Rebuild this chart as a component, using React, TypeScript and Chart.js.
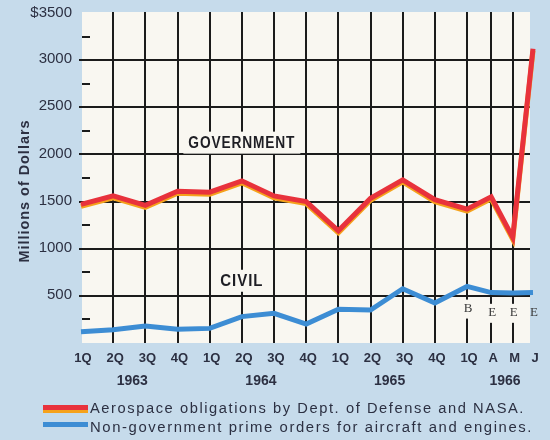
import React, { useEffect, useRef } from 'react';
import { Chart, registerables } from 'chart.js';

Chart.register(...registerables);

// ---------- data ----------
const periodLabels = ['1Q', '2Q', '3Q', '4Q', '1Q', '2Q', '3Q', '4Q', '1Q', '2Q', '3Q', '4Q', '1Q', 'A', 'M', 'J'];
// position of each period on the (non-uniform) time axis, in quarter units
const periodPos = [0, 1, 2, 3, 4, 5, 6, 7, 8, 9, 10, 11, 12, 12.75, 13.42, 14.05];
const yearLabels = ['1963', '1964', '1965', '1966'];
// each year label sits between these two period indices
const yearBetween = [[1, 2], [5, 6], [9, 10], [13, 14]];
const estimateFlags = ['', '', '', '', '', '', '', '', '', '', '', '', 'B', 'E', 'E', 'E'];

const government = [1470, 1560, 1460, 1610, 1600, 1720, 1560, 1500, 1190, 1535, 1730, 1520, 1420, 1550, 1120, 3120];
const civil = [120, 140, 180, 145, 155, 280, 315, 200, 358, 350, 575, 425, 600, 535, 530, 535];

const yTickValues = [500, 1000, 1500, 2000, 2500, 3000, 3500];
const yTickLabels = ['500', '1000', '1500', '2000', '2500', '3000', '$3500'];
const yGridValues = [500, 1000, 1500, 2000, 2500, 3000];
const yMinorValues = [250, 750, 1250, 1750, 2250, 2750, 3250];

const govLabel = 'Aerospace obligations by Dept. of Defense and NASA.';
const civLabel = 'Non-government prime orders for aircraft and engines.';

// ---------- styles ----------
const PAGE_BG = '#c6dbeb';
const PLOT_BG = '#f9f7f1';
const GRID = '#1b1b1b';
const RED = '#e8323c';
const ORANGE = '#f5a21c';
const BLUE = '#3d8dd4';
const TEXT = '#2c3042';

function fitText(ctx: CanvasRenderingContext2D, text: string, x: number, y: number, width: number, align: CanvasTextAlign) {
  const w = ctx.measureText(text).width;
  const sx = width / w;
  ctx.save();
  ctx.translate(x, y);
  ctx.scale(sx, 1);
  ctx.textAlign = align;
  ctx.fillText(text, 0, 0);
  ctx.restore();
}

const decor = {
  id: 'decor',
  beforeDraw(chart: any) {
    const { ctx, chartArea: a } = chart;
    ctx.save();
    ctx.fillStyle = PAGE_BG;
    ctx.fillRect(0, 0, chart.width, chart.height);
    ctx.fillStyle = PLOT_BG;
    ctx.fillRect(a.left + 1, a.top - 1, a.right - a.left - 4, a.bottom - a.top + 1);
    ctx.restore();
  },
  beforeDatasetsDraw(chart: any) {
    const { ctx, chartArea: a, scales } = chart;
    const x = scales.x, y = scales.y;
    ctx.save();
    ctx.strokeStyle = GRID;
    ctx.lineWidth = 2;
    // horizontal grid
    yGridValues.forEach((v) => {
      const py = Math.round(y.getPixelForValue(v));
      ctx.beginPath();
      ctx.moveTo(a.left - 2, py);
      ctx.lineTo(a.right - 3, py);
      ctx.stroke();
    });
    // minor ticks
    yMinorValues.forEach((v) => {
      const py = Math.round(y.getPixelForValue(v));
      ctx.beginPath();
      ctx.moveTo(a.left + 1, py);
      ctx.lineTo(a.left + 9, py);
      ctx.stroke();
    });
    // vertical grid (skip first and last period)
    periodPos.forEach((p, i) => {
      if (i === 0 || i === periodPos.length - 1) return;
      const px = Math.round(x.getPixelForValue(p));
      ctx.beginPath();
      ctx.moveTo(px, a.top - 1);
      ctx.lineTo(px, a.bottom);
      ctx.stroke();
    });

    // estimate letters with gaps in the grid lines
    periodPos.forEach((p, i) => {
      const f = estimateFlags[i];
      if (!f) return;
      const px = x.getPixelForValue(p);
      const py = y.getPixelForValue(f === 'B' ? 365 : 320);
      if (i !== periodPos.length - 1) {
        ctx.fillStyle = PLOT_BG;
        ctx.fillRect(px - 6, py - 9, 12, 19);
      }
      ctx.fillStyle = '#3a3a3a';
      ctx.font = '13px "Liberation Serif", serif';
      ctx.textAlign = 'center';
      ctx.textBaseline = 'middle';
      ctx.fillText(f, px + 1, py);
    });

    // series annotations
    const notes: [string, number, number, number][] = [
      ['GOVERNMENT', 5, 2125, 107],
      ['CIVIL', 5, 660, 43],
    ];
    notes.forEach(([t, xp, yv, w]) => {
      const px = x.getPixelForValue(xp);
      const py = y.getPixelForValue(yv);
      ctx.fillStyle = PLOT_BG;
      ctx.fillRect(px - w / 2 - 5, py - 11, w + 10, 22);
      ctx.fillStyle = '#1e1e24';
      ctx.font = 'bold 16px "Liberation Sans", Arial, sans-serif';
      (ctx as any).letterSpacing = '1px';
      ctx.textBaseline = 'middle';
      fitText(ctx, t, px, py + 1, w, 'center');
      (ctx as any).letterSpacing = '0px';
    });
    ctx.restore();
  },
  beforeDatasetDraw(chart: any, args: any) {
    if (args.index === 1) {
      const ctx = chart.ctx;
      ctx.save();
      ctx.shadowColor = ORANGE;
      ctx.shadowOffsetY = 2;
      ctx.shadowOffsetX = 0;
      ctx.shadowBlur = 0;
    }
  },
  afterDatasetDraw(chart: any, args: any) {
    if (args.index === 1) chart.ctx.restore();
  },
  afterDraw(chart: any) {
    const { ctx, chartArea: a, scales } = chart;
    const x = scales.x, y = scales.y;
    ctx.save();
    ctx.fillStyle = TEXT;
    // y tick labels
    ctx.font = '15px "Liberation Sans", Arial, sans-serif';
    ctx.textBaseline = 'middle';
    ctx.textAlign = 'right';
    yTickValues.forEach((v, i) => {
      ctx.fillText(yTickLabels[i], a.left - 9, y.getPixelForValue(v) - (i === yTickValues.length - 1 ? 0 : 1));
    });
    // y title
    ctx.save();
    ctx.translate(25, (a.top + a.bottom) / 2 + 13);
    ctx.rotate(-Math.PI / 2);
    ctx.font = 'bold 14px "Liberation Sans", Arial, sans-serif';
    (ctx as any).letterSpacing = '1px';
    ctx.textBaseline = 'middle';
    fitText(ctx, 'Millions of Dollars', 0, 0, 143, 'center');
    (ctx as any).letterSpacing = '0px';
    ctx.restore();

    // x labels
    ctx.font = 'bold 13px "Liberation Sans", Arial, sans-serif';
    ctx.textAlign = 'center';
    ctx.textBaseline = 'alphabetic';
    periodLabels.forEach((l, i) => {
      ctx.fillText(l, x.getPixelForValue(periodPos[i]) + 2, a.bottom + 19);
    });
    ctx.font = 'bold 14px "Liberation Sans", Arial, sans-serif';
    yearLabels.forEach((l, i) => {
      const [p0, p1] = yearBetween[i];
      const px = (x.getPixelForValue(periodPos[p0]) + x.getPixelForValue(periodPos[p1])) / 2;
      ctx.fillText(l, px + 3, a.bottom + 42);
    });

    // legend
    const ds = chart.data.datasets;
    const sx = 43, sw = 45;
    // government swatch (red with orange underside)
    ctx.fillStyle = ORANGE;
    ctx.fillRect(sx, 408, sw, 5);
    ctx.fillStyle = ds[1].borderColor;
    ctx.fillRect(sx, 405, sw, 5);
    ctx.fillStyle = ds[0].borderColor;
    ctx.fillRect(sx, 422, sw, 5);
    ctx.fillStyle = TEXT;
    ctx.font = '14px "Liberation Sans", Arial, sans-serif';
    (ctx as any).letterSpacing = '1.5px';
    ctx.textBaseline = 'alphabetic';
    fitText(ctx, ds[1].label, 90, 413, 435, 'left');
    fitText(ctx, ds[0].label, 90, 432, 443, 'left');
    (ctx as any).letterSpacing = '0px';
    ctx.restore();
  },
};

export default function App() {
  const ref = useRef<HTMLCanvasElement>(null);
  useEffect(() => {
    const canvas = ref.current!;
    const chart = new Chart(canvas, {
      type: 'line',
      data: {
        datasets: [
          {
            label: civLabel,
            data: civil.map((v, i) => ({ x: periodPos[i], y: v })),
            borderColor: BLUE,
            borderWidth: 5,
            pointRadius: 0,
            tension: 0,
            clip: false as any,
          },
          {
            label: govLabel,
            data: government.map((v, i) => ({ x: periodPos[i], y: v })),
            borderColor: RED,
            borderWidth: 5,
            pointRadius: 0,
            tension: 0,
            clip: false as any,
          },
        ],
      },
      options: {
        responsive: false,
        animation: false,
        devicePixelRatio: 1,
        layout: { padding: { left: 81, right: 17, top: 13, bottom: 97 } },
        plugins: { legend: { display: false }, tooltip: { enabled: false } },
        scales: {
          x: { type: 'linear', min: 0, max: 14.05, display: false },
          y: { type: 'linear', min: 0, max: 3500, display: false },
        },
      },
      plugins: [decor],
    });
    return () => chart.destroy();
  }, []);
  return (
    <div style={{ position: 'fixed', left: 0, top: 0, width: 550, height: 440, background: PAGE_BG }}>
      <canvas ref={ref} width={550} height={440} style={{ display: 'block', width: 550, height: 440 }} />
    </div>
  );
}
